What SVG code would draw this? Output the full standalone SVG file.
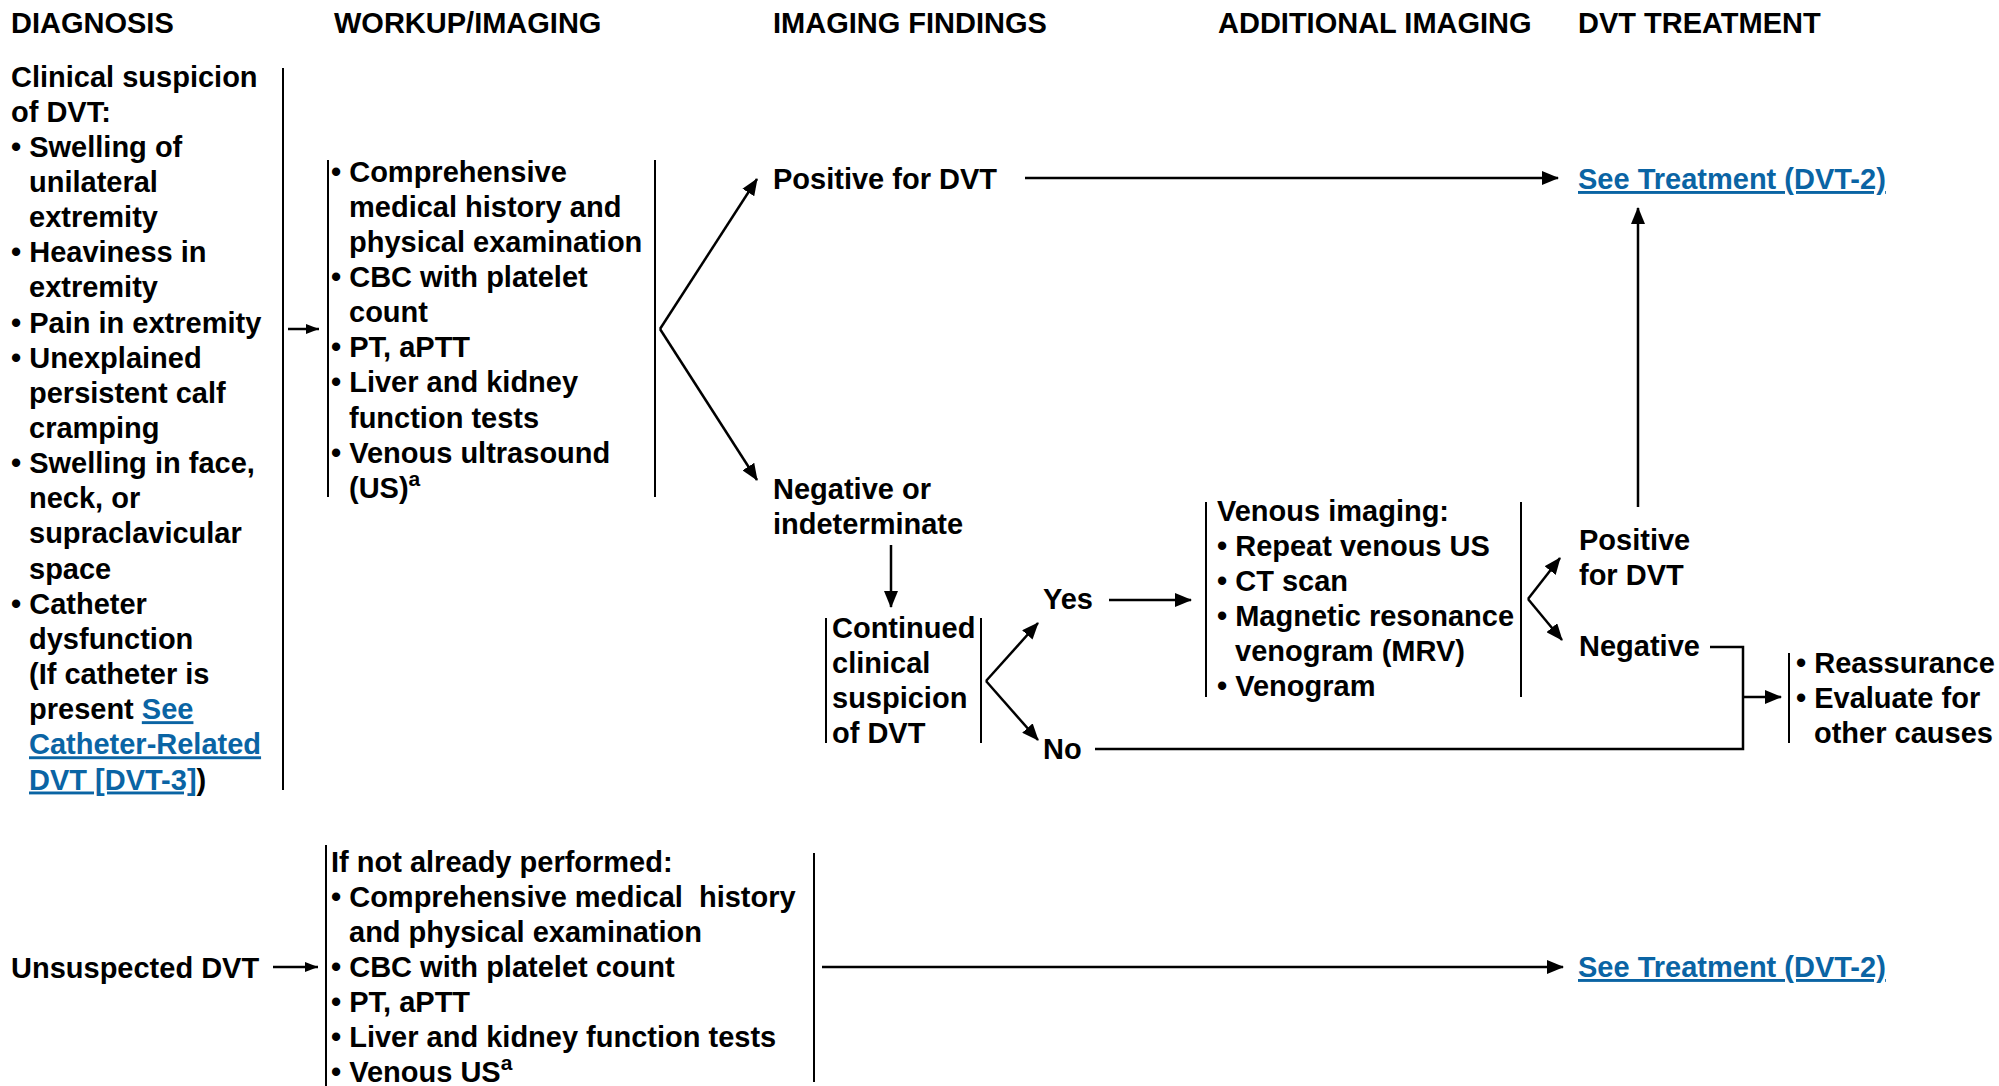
<svg xmlns="http://www.w3.org/2000/svg" width="1999" height="1086" viewBox="0 0 1999 1086">
<style>
text{font-family:"Liberation Sans",Arial,sans-serif;font-weight:bold;font-size:29px;fill:#000}
.lk{fill:#0a64a4;text-decoration:underline}
.br{stroke:#000;stroke-width:2;fill:none}
.cn{stroke:#000;stroke-width:2.5;fill:none}
.sup{font-size:21px}
</style>
<defs>
<marker id="ah" markerUnits="userSpaceOnUse" markerWidth="18" markerHeight="14" refX="16" refY="7" orient="auto">
<path d="M0,0 L17,7 L0,14 Z" fill="#000"/>
</marker>
<marker id="ahs" markerUnits="userSpaceOnUse" markerWidth="14" markerHeight="10" refX="13" refY="5" orient="auto">
<path d="M0,0 L13,5 L0,10 Z" fill="#000"/>
</marker>
</defs>
<rect width="1999" height="1086" fill="#fff"/>
<g id="headers">
<text x="11" y="33">DIAGNOSIS</text>
<text x="334" y="33">WORKUP/IMAGING</text>
<text x="773" y="33">IMAGING FINDINGS</text>
<text x="1218" y="33">ADDITIONAL IMAGING</text>
<text x="1578" y="33">DVT TREATMENT</text>
</g>
<g id="clinical-suspicion">
<text x="11" y="86.5">Clinical suspicion</text>
<text x="11" y="121.6">of DVT:</text>
<text x="11" y="156.8">• Swelling of</text>
<text x="29" y="191.9">unilateral</text>
<text x="29" y="227.1">extremity</text>
<text x="11" y="262.2">• Heaviness in</text>
<text x="29" y="297.4">extremity</text>
<text x="11" y="332.5">• Pain in extremity</text>
<text x="11" y="367.7">• Unexplained</text>
<text x="29" y="402.8">persistent calf</text>
<text x="29" y="438">cramping</text>
<text x="11" y="473.1">• Swelling in face,</text>
<text x="29" y="508.3">neck, or</text>
<text x="29" y="543.4">supraclavicular</text>
<text x="29" y="578.6">space</text>
<text x="11" y="613.7">• Catheter</text>
<text x="29" y="648.9">dysfunction</text>
<text x="29" y="684">(If catheter is</text>
<text x="29" y="719.2">present <tspan class="lk">See</tspan></text>
<text x="29" y="754.3" class="lk">Catheter-Related</text>
<text x="29" y="789.5"><tspan class="lk">DVT [DVT-3]</tspan>)</text>
<line class="br" x1="283" y1="68" x2="283" y2="790"/>
</g>
<g id="workup">
<line class="br" x1="328" y1="160" x2="328" y2="497"/>
<line class="br" x1="655" y1="160" x2="655" y2="497"/>
<text x="331" y="181.5">• Comprehensive</text>
<text x="349" y="216.6">medical history and</text>
<text x="349" y="251.8">physical examination</text>
<text x="331" y="286.9">• CBC with platelet</text>
<text x="349" y="322.1">count</text>
<text x="331" y="357.2">• PT, aPTT</text>
<text x="331" y="392.4">• Liver and kidney</text>
<text x="349" y="427.5">function tests</text>
<text x="331" y="462.7">• Venous ultrasound</text>
<text x="349" y="497.8">(US)<tspan class="sup" dy="-12">a</tspan></text>
</g>
<g id="positive-dvt">
<text x="773" y="189">Positive for DVT</text>
</g>
<g id="negative-indeterminate">
<text x="773" y="499">Negative or</text>
<text x="773" y="534">indeterminate</text>
</g>
<g id="continued-suspicion">
<line class="br" x1="826" y1="618" x2="826" y2="743"/>
<line class="br" x1="981" y1="618" x2="981" y2="743"/>
<text x="832" y="638">Continued</text>
<text x="832" y="673">clinical</text>
<text x="832" y="708">suspicion</text>
<text x="832" y="743">of DVT</text>
</g>
<g id="yes"><text x="1043" y="609">Yes</text></g>
<g id="no"><text x="1043" y="759">No</text></g>
<g id="venous-imaging">
<line class="br" x1="1206" y1="502" x2="1206" y2="697"/>
<line class="br" x1="1521" y1="502" x2="1521" y2="697"/>
<text x="1217" y="521">Venous imaging:</text>
<text x="1217" y="556">• Repeat venous US</text>
<text x="1217" y="591">• CT scan</text>
<text x="1217" y="626">• Magnetic resonance</text>
<text x="1235" y="661">venogram (MRV)</text>
<text x="1217" y="696">• Venogram</text>
</g>
<g id="positive-dvt-2">
<text x="1579" y="550">Positive</text>
<text x="1579" y="585">for DVT</text>
</g>
<g id="negative">
<text x="1579" y="656">Negative</text>
</g>
<g id="reassurance">
<line class="br" x1="1789" y1="653" x2="1789" y2="743"/>
<text x="1796" y="673">• Reassurance</text>
<text x="1796" y="708">• Evaluate for</text>
<text x="1814" y="743">other causes</text>
</g>
<g id="see-treatment-1">
<text x="1578" y="189" class="lk">See Treatment (DVT-2)</text>
</g>
<g id="unsuspected">
<text x="11" y="978">Unsuspected DVT</text>
</g>
<g id="workup-2">
<line class="br" x1="326" y1="845" x2="326" y2="1086"/>
<line class="br" x1="814" y1="853" x2="814" y2="1082"/>
<text x="331" y="872">If not already performed:</text>
<text x="331" y="907" xml:space="preserve">• Comprehensive medical  history</text>
<text x="349" y="942">and physical examination</text>
<text x="331" y="977">• CBC with platelet count</text>
<text x="331" y="1012">• PT, aPTT</text>
<text x="331" y="1047">• Liver and kidney function tests</text>
<text x="331" y="1082">• Venous US<tspan class="sup" dy="-12">a</tspan></text>
</g>
<g id="see-treatment-2">
<text x="1578" y="977" class="lk">See Treatment (DVT-2)</text>
</g>
<g id="connectors">
<line class="cn" x1="288" y1="329" x2="319" y2="329" marker-end="url(#ahs)"/>
<line class="cn" x1="660" y1="329" x2="757" y2="179" marker-end="url(#ah)"/>
<line class="cn" x1="660" y1="329" x2="757" y2="480" marker-end="url(#ah)"/>
<line class="cn" x1="1025" y1="178" x2="1558" y2="178" marker-end="url(#ah)"/>
<line class="cn" x1="891" y1="545" x2="891" y2="607" marker-end="url(#ah)"/>
<line class="cn" x1="986" y1="681" x2="1038" y2="623" marker-end="url(#ah)"/>
<line class="cn" x1="986" y1="681" x2="1038" y2="740" marker-end="url(#ah)"/>
<line class="cn" x1="1109" y1="600" x2="1191" y2="600" marker-end="url(#ah)"/>
<line class="cn" x1="1528" y1="599" x2="1560" y2="558" marker-end="url(#ah)"/>
<line class="cn" x1="1528" y1="599" x2="1562" y2="640" marker-end="url(#ah)"/>
<line class="cn" x1="1638" y1="507" x2="1638" y2="208" marker-end="url(#ah)"/>
<path class="cn" d="M1710,647 H1743 V749 H1095"/>
<line class="cn" x1="1743" y1="697" x2="1781" y2="697" marker-end="url(#ah)"/>
<line class="cn" x1="273" y1="967" x2="318" y2="967" marker-end="url(#ahs)"/>
<line class="cn" x1="822" y1="967" x2="1563" y2="967" marker-end="url(#ah)"/>
</g>
</svg>
